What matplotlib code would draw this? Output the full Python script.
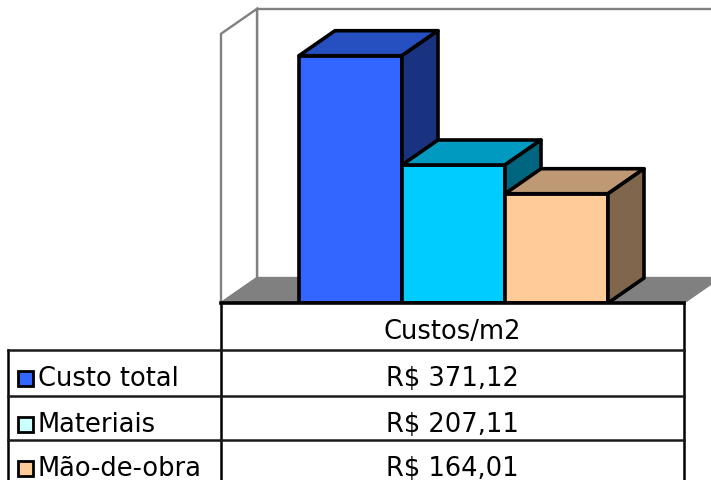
import matplotlib
matplotlib.use("Agg")
import matplotlib.pyplot as plt
from matplotlib.patches import Polygon, Rectangle

# dados do gráfico
categories = ["Custo total", "Materiais", "Mão-de-obra"]
values = [371.12, 207.11, 164.01]
value_labels = ["R$ 371,12", "R$ 207,11", "R$ 164,01"]
column_label = "Custos/m2"

front_colors = ["#3366FF", "#00CCFF", "#FFCC99"]
top_colors = ["#2650C0", "#0099BF", "#BF9973"]
side_colors = ["#1A3380", "#006680", "#80664D"]
legend_colors = ["#3366FF", "#CCFFFF", "#FFCC99"]

# geometria (pixels)
W, H = 711, 481
floor_y = 304          # base frontal
dx, dy = 36, 25        # profundidade oblíqua
left_x, right_x = 221, 684
bar_x0, bar_w = 299, 103
px_per_unit = 247.3 / 371.12
wall_max = 404         # topo das paredes em unidades de valor
row_tops = [304, 351, 397, 441]
label_x0 = 8

fig = plt.figure(figsize=(W / 100, H / 100), dpi=100)
ax = fig.add_axes([0, 0, 1, 1])
ax.set_xlim(0, W)
ax.set_ylim(H, 0)
ax.axis("off")


def to_y(v):
    return floor_y - v * px_per_unit


wall_top = to_y(wall_max)
grey = "#808080"

# parede do fundo
ax.add_patch(Polygon([(left_x + dx, floor_y - dy), (left_x + dx, wall_top - dy),
                      (right_x + dx, wall_top - dy), (right_x + dx, floor_y - dy)],
                     closed=True, facecolor="white", edgecolor=grey, lw=1.7, zorder=1))
# parede lateral
ax.add_patch(Polygon([(left_x, floor_y), (left_x, wall_top),
                      (left_x + dx, wall_top - dy), (left_x + dx, floor_y - dy)],
                     closed=True, facecolor="white", edgecolor=grey, lw=1.7, zorder=1))
# piso
ax.add_patch(Polygon([(left_x, floor_y), (right_x, floor_y),
                      (right_x + dx, floor_y - dy), (left_x + dx, floor_y - dy)],
                     closed=True, facecolor=grey, edgecolor=grey, lw=1, zorder=2))

# barras 3D
for i, v in enumerate(values):
    x0 = bar_x0 + i * bar_w
    x1 = x0 + bar_w
    yt = to_y(v)
    kw = dict(closed=True, edgecolor="black", lw=2.6, joinstyle="round", zorder=3 + i)
    ax.add_patch(Polygon([(x0, floor_y), (x0, yt), (x1, yt), (x1, floor_y)],
                         facecolor=front_colors[i], **kw))
    ax.add_patch(Polygon([(x0, yt), (x0 + dx, yt - dy), (x1 + dx, yt - dy), (x1, yt)],
                         facecolor=top_colors[i], **kw))
    ax.add_patch(Polygon([(x1, floor_y), (x1, yt), (x1 + dx, yt - dy), (x1 + dx, floor_y - dy)],
                         facecolor=side_colors[i], **kw))

# tabela de dados
ax.add_patch(Rectangle((left_x, floor_y), right_x - left_x, H - floor_y,
                       facecolor="white", edgecolor="none", zorder=10))
ax.plot([left_x, right_x], [floor_y, floor_y], color="black", lw=2.6, zorder=11)
ax.plot([left_x, left_x], [floor_y, H], color="black", lw=1.8, zorder=11)
ax.plot([right_x, right_x], [floor_y, H], color="black", lw=1.8, zorder=11)
ax.plot([label_x0, label_x0], [row_tops[1], H], color="black", lw=1.8, zorder=11)
for yr in row_tops[1:]:
    ax.plot([label_x0, right_x], [yr, yr], color="#1a1a1a", lw=1.8, zorder=11)

mid_x = (left_x + right_x) / 2
fs = 18.5
ax.text(mid_x, row_tops[0] + 35, column_label, ha="center", va="baseline",
        fontsize=fs, zorder=12)
for i, cat in enumerate(categories):
    base = row_tops[i + 1] + 35
    ax.text(mid_x, base, value_labels[i], ha="center", va="baseline", fontsize=fs, zorder=12)
    ax.add_patch(Rectangle((17.5, base - 14.5), 15, 15.5, facecolor=legend_colors[i],
                           edgecolor="black", lw=2.0, zorder=12))
    ax.text(38, base, cat, ha="left", va="baseline", fontsize=fs, zorder=12)

fig.savefig("out.png", dpi=100)
